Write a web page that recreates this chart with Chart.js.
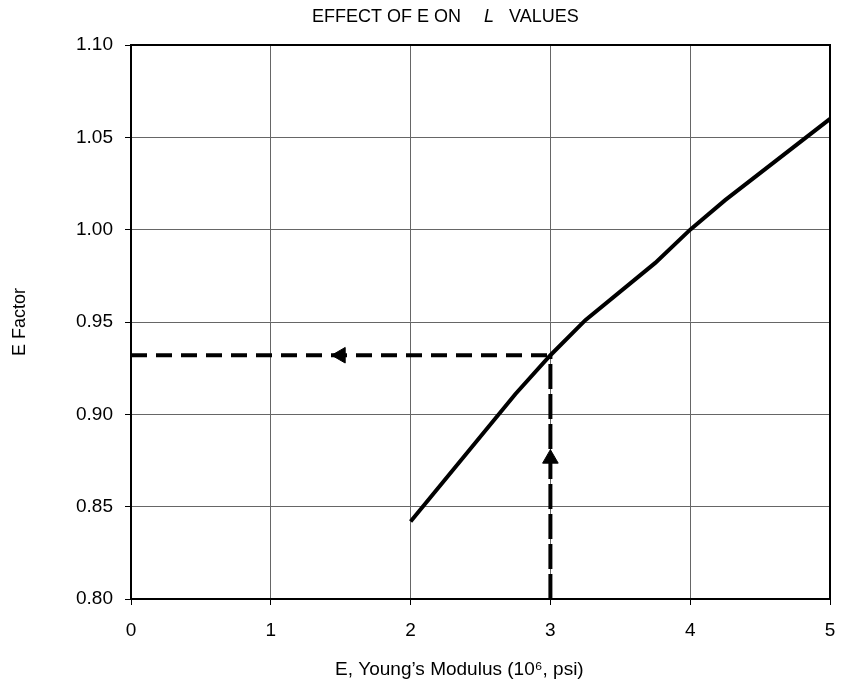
<!DOCTYPE html>
<html>
<head>
<meta charset="utf-8">
<script src="https://cdn.jsdelivr.net/npm/chart.js@4"></script>
<style>
  html, body { margin: 0; padding: 0; background: #fff; }
  #wrap { width: 841px; height: 686px; }
</style>
</head>
<body>
<div id="wrap"><canvas id="grafico" width="841" height="686"></canvas></div>
<script>
// curve
const modulus = [2, 2.75, 3, 3.25, 3.75, 4, 4.25, 5]
const factor = [0.842, 0.911, 0.932, 0.951, 0.982, 1.0, 1.016, 1.06]

// example read-off at E = 3
const readE = 3
const readFactor = 0.932
const arrowLeft = { x: 1.5, y: readFactor }
const arrowUp = { x: readE, y: 0.876 }

const xTicks = [0, 1, 2, 3, 4, 5]
const yTicks = [0.80, 0.85, 0.90, 0.95, 1.00, 1.05, 1.10]

// title pieces, the L is italic in the original
const titulo = [
    { text: 'EFFECT OF E ON', x: 312, italic: false },
    { text: 'L', x: 484, italic: true },
    { text: 'VALUES', x: 509, italic: false }
]

window.onload = () => {
    const fonte = 'Liberation Sans, Arial, Helvetica, sans-serif'
    Chart.defaults.font.family = fonte
    Chart.defaults.color = '#000'

    const contexto = document.getElementById('grafico').getContext('2d')

    const curva = modulus.map((x, i) => ({ x: x, y: factor[i] }))

    new Chart(contexto, {
        type: 'scatter',
        data: {
            datasets: [{
                label: 'E Factor',
                data: curva,
                showLine: true,
                borderColor: '#000',
                borderWidth: 4,
                pointRadius: 0,
                fill: false
            }, {
                label: 'horizontal',
                data: [{ x: 0, y: readFactor }, { x: readE, y: readFactor }],
                showLine: true,
                borderColor: '#000',
                borderWidth: 4,
                borderDash: [16, 9],
                pointRadius: 0
            }, {
                label: 'vertical',
                data: [{ x: readE, y: 0.80 }, { x: readE, y: readFactor }],
                showLine: true,
                borderColor: '#000',
                borderWidth: 4,
                borderDash: [25, 5],
                pointRadius: 0
            }, {
                label: 'arrow left',
                data: [arrowLeft],
                pointStyle: 'triangle',
                rotation: -90,
                pointRadius: 9,
                backgroundColor: '#000',
                borderColor: '#000',
                borderWidth: 1
            }, {
                label: 'arrow up',
                data: [arrowUp],
                pointStyle: 'triangle',
                rotation: 0,
                pointRadius: 9,
                backgroundColor: '#000',
                borderColor: '#000',
                borderWidth: 1
            }]
        },
        options: {
            responsive: false,
            animation: false,
            layout: { padding: { left: 0, right: 11, top: 45, bottom: 0 } },
            plugins: {
                legend: { display: false },
                tooltip: { enabled: false },
                title: { display: false }
            },
            scales: {
                x: {
                    type: 'linear',
                    min: 0,
                    max: 5,
                    afterBuildTicks: (scale) => { scale.ticks = xTicks.map(v => ({ value: v })) },
                    afterFit: (scale) => {
                        scale.height = 87
                        scale.paddingLeft = 0
                        scale.paddingRight = 0
                    },
                    ticks: {
                        font: { size: 19 },
                        padding: 14,
                        callback: (v) => String(v)
                    },
                    grid: { color: '#666', lineWidth: 1, tickColor: '#000', tickLength: 6 },
                    border: { color: '#000', width: 2 },
                    title: {
                        display: true,
                        text: 'E, Young\u2019s Modulus (10\u2076, psi)        ',
                        font: { size: 19 },
                        padding: { top: 0, bottom: 5 }
                    }
                },
                y: {
                    type: 'linear',
                    min: 0.80,
                    max: 1.10,
                    afterBuildTicks: (scale) => { scale.ticks = yTicks.map(v => ({ value: v })) },
                    afterFit: (scale) => {
                        scale.width = 131
                        scale.paddingTop = 0
                        scale.paddingBottom = 0
                    },
                    ticks: {
                        font: { size: 19 },
                        padding: 12,
                        callback: (v) => v.toFixed(2)
                    },
                    grid: { color: '#666', lineWidth: 1, tickColor: '#000', tickLength: 6 },
                    border: { color: '#000', width: 2 },
                    title: {
                        display: true,
                        text: 'E Factor',
                        font: { size: 18 },
                        padding: { top: 9, bottom: 0 }
                    }
                }
            }
        },
        plugins: [{
            id: 'moldura',
            afterDatasetsDraw(chart) {
                const { ctx, chartArea: a } = chart
                ctx.save()
                ctx.strokeStyle = '#000'
                ctx.lineWidth = 2
                ctx.strokeRect(a.left, a.top, a.right - a.left, a.bottom - a.top)
                ctx.restore()
            }
        }, {
            id: 'titulo',
            afterDraw(chart) {
                const ctx = chart.ctx
                ctx.save()
                ctx.fillStyle = '#000'
                ctx.textBaseline = 'alphabetic'
                ctx.textAlign = 'left'
                titulo.forEach(p => {
                    ctx.font = (p.italic ? 'italic ' : '') + '18px ' + fonte
                    ctx.fillText(p.text, p.x, 22)
                })
                ctx.restore()
            }
        }]
    })
}
</script>
</body>
</html>
